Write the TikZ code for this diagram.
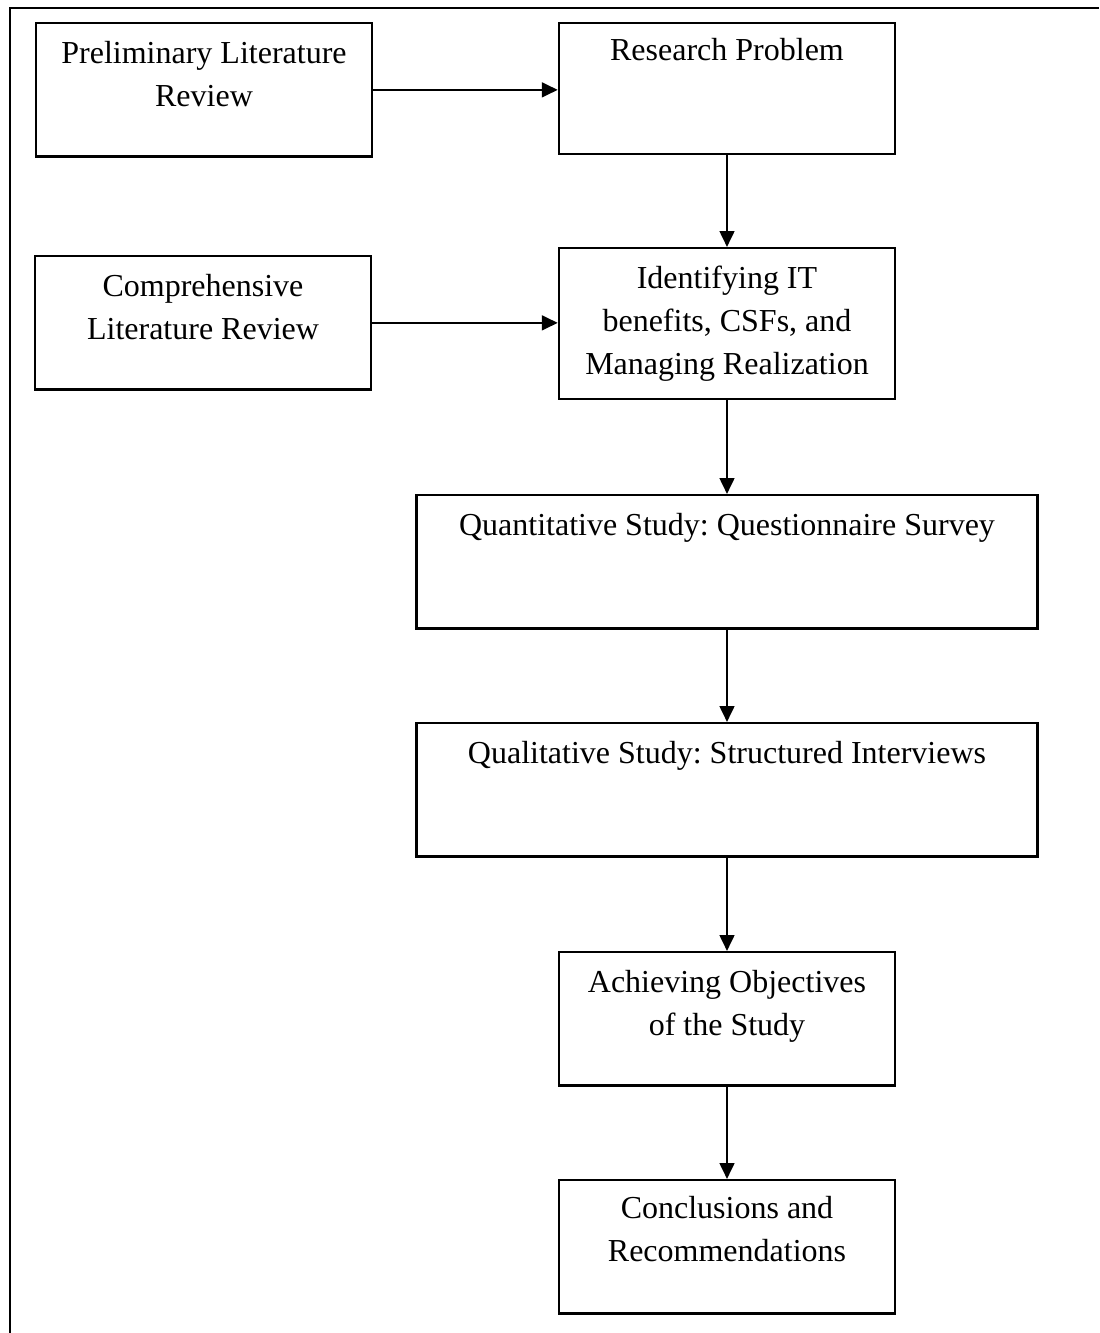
\documentclass[tikz,border=0pt]{standalone}
\usepackage{fontspec}
\setmainfont{Liberation Serif}
\usepackage{tikz}
\usetikzlibrary{arrows.meta}
\tikzset{every node/.append style={font=\fontsize{12}{16.1}\selectfont\frenchspacing}}

\begin{document}
\begin{tikzpicture}[x=0.375pt, y=-0.375pt, >={Triangle[length=6pt, width=5.5pt]},
    stagebox/.style={draw, line width=0.9pt, anchor=north, align=flush center, inner xsep=0pt, inner ysep=0pt,
        text width=126pt, text height=15.25pt, text depth=34.75pt},
    widebox/.style={stagebox, text width=233pt}]
    \useasboundingbox (0,0) rectangle (1099,1333);
    \draw[line width=1.1pt] (10,1333) -- (10,8) -- (1099,8);
    \node[stagebox] (prelim) at (204,22) {Preliminary Literature\\Review};
    \node[stagebox, text height=14pt, text depth=35pt] (research) at (727,22) {Research Problem};
    \node[stagebox] (comp) at (203,255) {Comprehensive\\Literature Review};
    \node[stagebox, text depth=41.35pt] (ident) at (727,247) {Identifying IT\\benefits, CSFs, and\\Managing Realization};
    \node[widebox] (quant) at (727,494) {Quantitative Study: Questionnaire Survey};
    \node[widebox] (qual) at (727,722) {Qualitative Study: Structured Interviews};
    \node[stagebox] (achieve) at (727,951) {Achieving Objectives\\of the Study};
    \node[stagebox, text height=14.25pt, text depth=35.75pt] (concl) at (727,1179) {Conclusions and\\Recommendations};
    \draw[->, line width=1pt] (prelim.east) -- (prelim.east -| research.west);
    \draw[->, line width=1pt] (comp.east) -- (comp.east -| ident.west);
    \draw[->, line width=1pt] (research) -- (ident);
    \draw[->, line width=1pt] (ident) -- (quant);
    \draw[->, line width=1pt] (quant) -- (qual);
    \draw[->, line width=1pt] (qual) -- (achieve);
    \draw[->, line width=1pt] (achieve) -- (concl);
\end{tikzpicture}
\end{document}
